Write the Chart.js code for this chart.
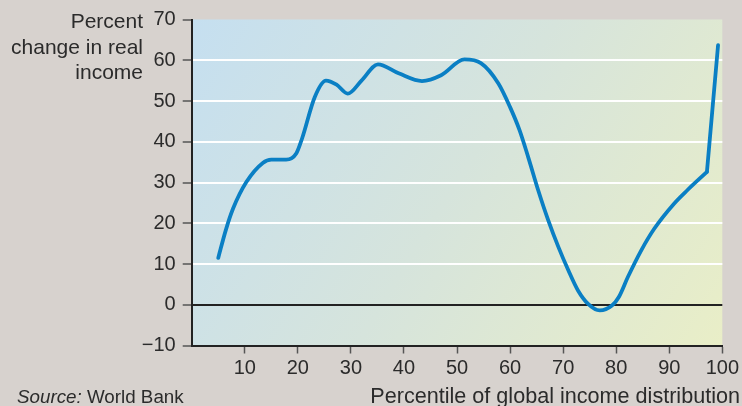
<!DOCTYPE html>
<html>
<head>
<meta charset="utf-8">
<script src="https://cdn.jsdelivr.net/npm/chart.js@4/dist/chart.umd.min.js"></script>
<style>
  html, body { margin: 0; padding: 0; background: #d7d2ce; }
  #wrap { position: relative; width: 742px; height: 406px; }
</style>
</head>
<body>
<div id="wrap"><canvas id="c" width="742" height="406"></canvas></div>
<script>
// Percentile of the global income distribution and the percent change in real income
const percentile = [5, 6.4, 7.8, 10.3, 13.4, 15, 17.8, 19.7, 20.8, 23.2, 25.3, 27.3, 29.4, 32, 35.1, 39, 43.4, 47, 51.4, 54.5, 57.8, 60, 61.8, 63.4, 65.3, 67.2, 69.1, 71, 72.8, 74.7, 76.9, 79.2, 80.5, 82.2, 84.7, 87.2, 90.9, 93.4, 97.1, 99.2];
const realIncomeChange = [11.5, 18.2, 23.6, 30.1, 34.8, 35.6, 35.6, 37.1, 40.8, 51, 55, 54, 51.8, 55, 59, 56.8, 54.9, 56.3, 60.2, 59.3, 54.3, 48.5, 42.8, 36.3, 28.1, 20.7, 14.2, 8.4, 3.5, 0.2, -1.4, -0.2, 1.9, 6.8, 13.3, 18.7, 24.8, 28.1, 32.6, 63.7];
// The top percentiles climb in a straight run from this percentile on
const topRunStart = 97.1;

const yTicks = [-10, 0, 10, 20, 30, 40, 50, 60, 70];
const xTicks = [10, 20, 30, 40, 50, 60, 70, 80, 90, 100];

const yTitle = ['Percent', 'change in real', 'income'];
const xTitle = 'Percentile of global income distribution';
const sourceLabel = 'Source:';
const sourceName = ' World Bank';

const FONT = "'Liberation Sans', Arial, Helvetica, sans-serif";
const TEXT = '#2b2b2b';
const CURVE = '#0a7fc4';

const points = percentile.map((p, i) => ({ x: p, y: realIncomeChange[i] }));
const smoothPart = points.filter(pt => pt.x <= topRunStart);
const topRun = points.filter(pt => pt.x >= topRunStart);

// Diagonal blue-to-pale-yellow wash behind the plot area
const plotBackground = {
  id: 'plotBackground',
  beforeDraw(chart) {
    const { ctx, chartArea: a } = chart;
    const g = ctx.createLinearGradient(a.left, a.top, a.right, a.bottom);
    g.addColorStop(0, '#c5dff0');
    g.addColorStop(0.5, '#d6e4dc');
    g.addColorStop(1, '#e9eec7');
    ctx.save();
    ctx.fillStyle = g;
    ctx.fillRect(a.left, a.top, a.right - a.left, a.bottom - a.top);
    ctx.restore();
  }
};

// Axis titles and source note
const annotations = {
  id: 'annotations',
  afterDraw(chart) {
    const ctx = chart.ctx;
    ctx.save();
    ctx.fillStyle = TEXT;
    ctx.textBaseline = 'alphabetic';

    ctx.font = '21px ' + FONT;
    ctx.textAlign = 'right';
    const baselines = [27.5, 53.5, 78.5];
    yTitle.forEach((line, i) => ctx.fillText(line, 143, baselines[i]));

    ctx.font = '21.6px ' + FONT;
    ctx.textAlign = 'right';
    ctx.fillText(xTitle, 740, 403);

    ctx.textAlign = 'left';
    ctx.font = 'italic 18.8px ' + FONT;
    ctx.fillText(sourceLabel, 17, 403);
    const w = ctx.measureText(sourceLabel).width;
    ctx.font = '18.8px ' + FONT;
    ctx.fillText(sourceName, 17 + w, 403);
    ctx.restore();
  }
};

const lineStyle = {
  borderColor: CURVE,
  borderWidth: 3.8,
  pointRadius: 0,
  borderCapStyle: 'round',
  borderJoinStyle: 'round',
  fill: false
};

new Chart(document.getElementById('c'), {
  type: 'line',
  data: {
    datasets: [
      Object.assign({ data: smoothPart, cubicInterpolationMode: 'monotone' }, lineStyle),
      Object.assign({ data: topRun, tension: 0 }, lineStyle)
    ]
  },
  options: {
    responsive: false,
    animation: false,
    devicePixelRatio: 1,
    layout: { padding: { top: 19.5, right: 18.5, left: 0, bottom: 0 } },
    plugins: { legend: { display: false }, tooltip: { enabled: false } },
    scales: {
      x: {
        type: 'linear',
        min: 0,
        max: 100,
        afterBuildTicks(scale) { scale.ticks = xTicks.map(v => ({ value: v })); },
        afterFit(scale) { scale.height = 60.5; },
        ticks: {
          color: TEXT,
          font: { family: FONT, size: 20 },
          padding: 3,
          maxRotation: 0,
          autoSkip: false
        },
        grid: {
          drawOnChartArea: false,
          drawTicks: true,
          tickLength: 8,
          tickWidth: 1.5,
          tickColor: '#555'
        },
        border: { display: true, color: '#222', width: 2 }
      },
      y: {
        type: 'linear',
        min: -10,
        max: 70,
        afterBuildTicks(scale) { scale.ticks = yTicks.map(v => ({ value: v })); },
        afterFit(scale) { scale.width = 191.7; },
        ticks: {
          callback: v => (v < 0 ? '\u2212' + Math.abs(v) : String(v)),
          color: TEXT,
          font: { family: FONT, size: 20 },
          padding: 7
        },
        grid: {
          color: ctx => {
            const v = ctx.tick && ctx.tick.value;
            if (v === 0) return '#222';
            if (v === 70 || v === -10) return 'rgba(0,0,0,0)';
            return '#ffffff';
          },
          lineWidth: 2,
          drawTicks: true,
          tickLength: 9,
          tickWidth: 1.5,
          tickColor: '#555'
        },
        border: { display: true, color: '#222', width: 2 }
      }
    }
  },
  plugins: [plotBackground, annotations]
});
</script>
</body>
</html>
